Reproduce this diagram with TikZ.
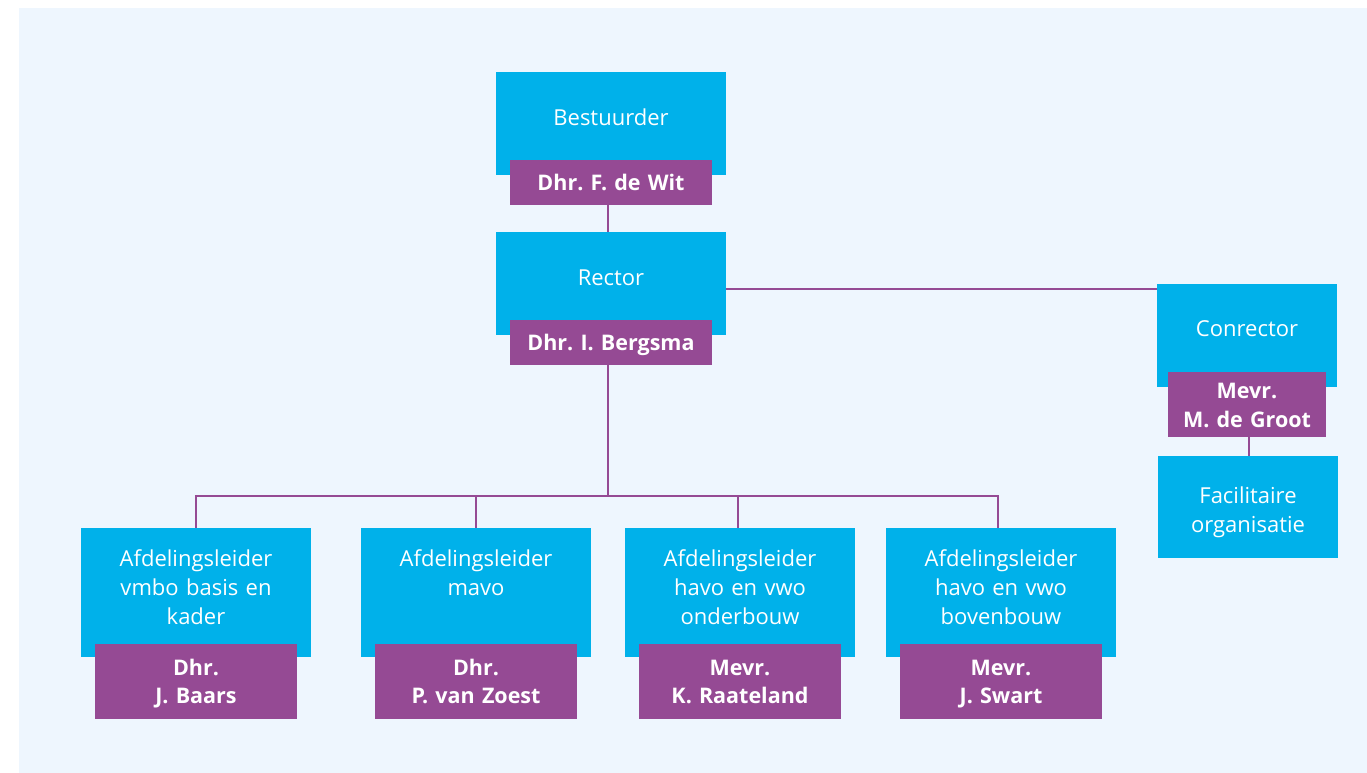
\documentclass[tikz,border=0pt]{standalone}
\usepackage{fontspec}
\setmainfont{Open Sans}
\frenchspacing
\definecolor{bg}{HTML}{EEF6FE}
\definecolor{cy}{HTML}{00B1EA}
\definecolor{pu}{HTML}{954A94}
\begin{document}
\begin{tikzpicture}[x=1pt,y=-1pt,
  bluebox/.style={fill=cy, draw=none, minimum width=230, minimum height=#1, inner sep=0, anchor=north},
  fbox/.style={fill=cy, draw=none, minimum width=180, minimum height=#1, inner sep=0, anchor=north},
  bluetxt/.style={text=white, font=\fontsize{22}{29}\selectfont, align=center, text width=226, inner sep=0, anchor=base},
  namebox/.style={fill=pu, draw=none, minimum width=#1, inner sep=0, text=white, align=center,
    font=\bfseries\fontsize{21.5}{28.5}\selectfont},
  nametxt/.style={text=white, align=center, inner sep=0, anchor=base, text width=200,
    font=\bfseries\fontsize{21.5}{28.5}\selectfont},
  link/.style={draw=pu, line width=2.3pt}]
\useasboundingbox (0,0) rectangle (1367,773);
\fill[bg] (19,8) rectangle (1367,773);
% top
\node[bluebox=103] (best) at (611,72) {};
\node[bluetxt] (bestt) at (611,125) {Bestuurder};
\node[namebox=202, minimum height=45] (bname) at (611,182.5) {};
\node[nametxt] (bnamet) at (611,190.5) {Dhr. F. de Wit};
\node[bluebox=103] (rect) at (611,232) {};
\node[bluetxt] (rectt) at (611,285) {Rector};
\node[namebox=202, minimum height=45] (rname) at (611,342.5) {};
\node[nametxt] (rnamet) at (611,350.5) {Dhr. I. Bergsma};
% conrector
\node[fbox=103] (conr) at (1247,284) {};
\node[bluetxt] (conrt) at (1247,336) {Conrector};
\node[namebox=158, minimum height=65] (cname) at (1247,404.5) {};
\node[nametxt] (cnamet) at (1247,398.5) {Mevr.\\M. de Groot};
\node[fbox=102] (fac) at (1248,456) {};
\node[bluetxt] (fact) at (1248,503.5) {Facilitaire\\organisatie};
% bottom
\node[bluebox=129] (a1) at (196,528) {};
\node[bluetxt] (a1t) at (196,566.5) {Afdelingsleider\\vmbo basis en\\kader};
\node[namebox=202, minimum height=75] (n1) at (196,681.5) {};
\node[nametxt] (n1t) at (196,675) {Dhr.\\J. Baars};
\node[bluebox=129] (a2) at (476,528) {};
\node[bluetxt] (a2t) at (476,566.5) {Afdelingsleider\\mavo};
\node[namebox=202, minimum height=75] (n2) at (476,681.5) {};
\node[nametxt] (n2t) at (476,675) {Dhr.\\P. van Zoest};
\node[bluebox=129] (a3) at (740,528) {};
\node[bluetxt] (a3t) at (740,566.5) {Afdelingsleider\\havo en vwo\\onderbouw};
\node[namebox=202, minimum height=75] (n3) at (740,681.5) {};
\node[nametxt] (n3t) at (740,675) {Mevr.\\K. Raateland};
\node[bluebox=129] (a4) at (1001,528) {};
\node[bluetxt] (a4t) at (1001,566.5) {Afdelingsleider\\havo en vwo\\bovenbouw};
\node[namebox=202, minimum height=75] (n4) at (1001,681.5) {};
\node[nametxt] (n4t) at (1001,675) {Mevr.\\J. Swart};
% connectors
\coordinate (hub) at (608,496);
\coordinate (h1) at (196,496);
\coordinate (h2) at (476,496);
\coordinate (h3) at (738,496);
\coordinate (h4) at (998,496);
\coordinate (rE) at (726,289);
\coordinate (cW) at (1157,289);
\path[link] ([xshift=-3pt]bname.south) -- ([xshift=-3pt]rect.north);
\path[link] (rE) -- (cW);
\path[link] ([xshift=-3pt]rname.south) -- (hub);
\path[link] ([xshift=-1.15pt]h1) -- ([xshift=1.15pt]h4);
\path[link] (h1) -- (h1 |- a1.north);
\path[link] (h2) -- (h2 |- a2.north);
\path[link] (h3) -- (h3 |- a3.north);
\path[link] (h4) -- (h4 |- a4.north);
\path[link] ([xshift=2pt]cname.south) -- ([xshift=1pt]fac.north);
\end{tikzpicture}
\end{document}
